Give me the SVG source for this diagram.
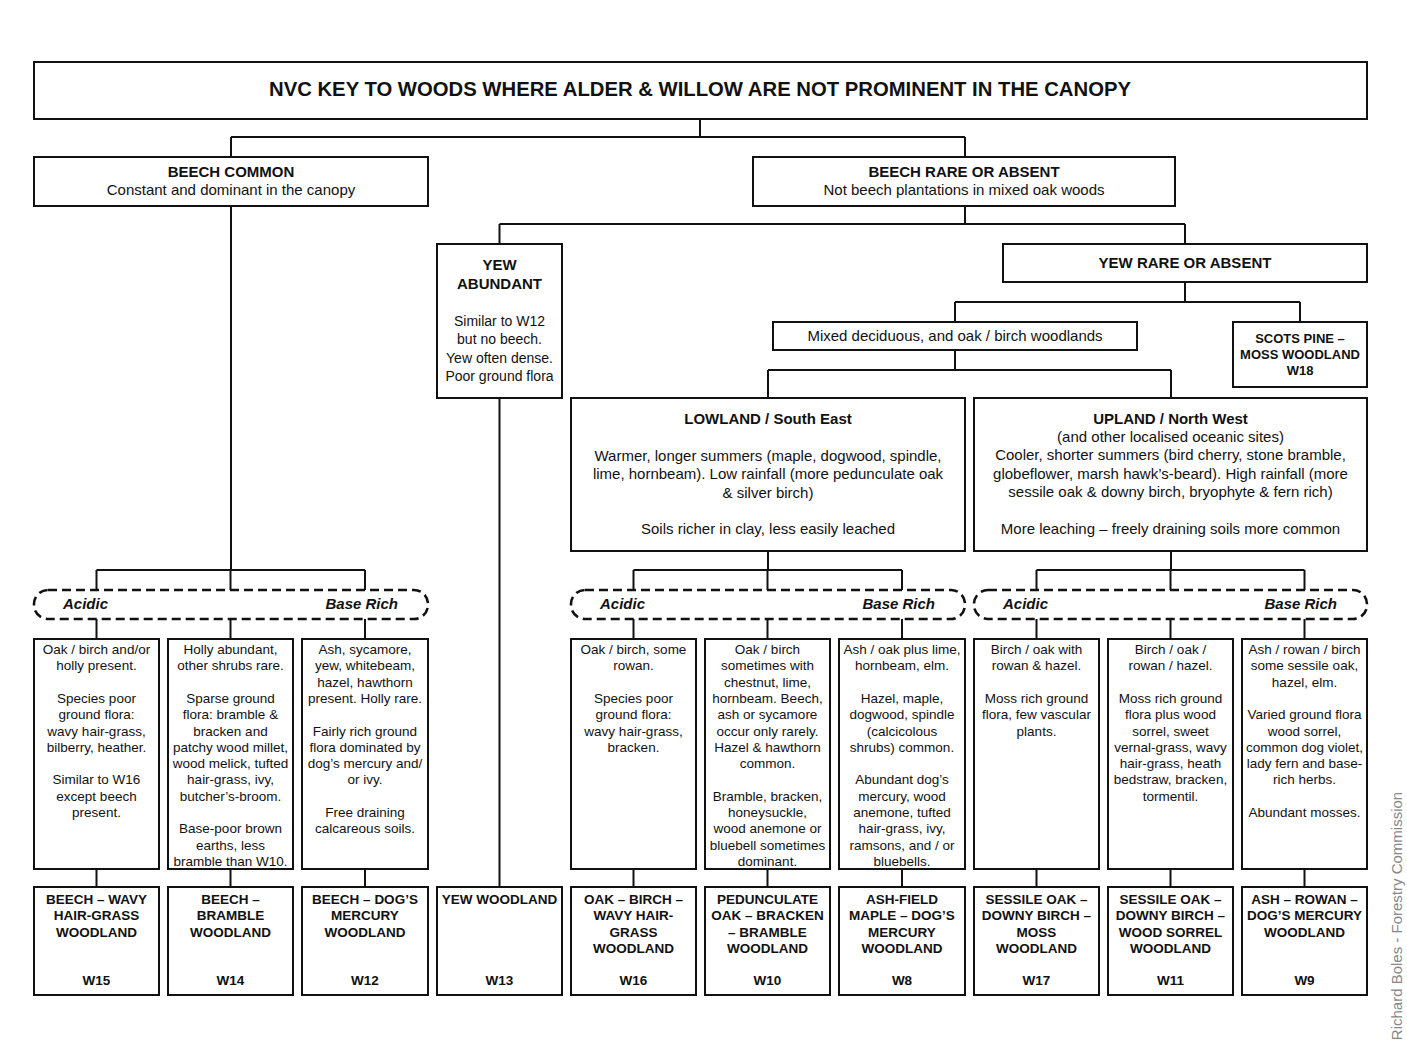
<svg xmlns="http://www.w3.org/2000/svg" width="1407" height="1050" viewBox="0 0 1407 1050">
<style>
.box{fill:#fff;stroke:#111;stroke-width:2}
.dash{fill:#fff;stroke:#111;stroke-width:2.6;stroke-dasharray:9 5}
.con{fill:none;stroke:#111;stroke-width:2}
text{font-family:"Liberation Sans",Arial,sans-serif;fill:#111;text-anchor:middle}
.title{font-size:20.3px;font-weight:bold}
.h{font-size:15px;font-weight:bold}
.r{font-size:15px}
.d{font-size:13.5px}
.b{font-size:13.5px;font-weight:bold}
.s{font-size:13px;font-weight:bold}
.soil{font-size:15px;font-weight:bold;font-style:italic}
.credit{font-size:15px;fill:#888}
</style>
<rect width="1407" height="1050" fill="#fff"/>
<g id="connectors">
<path class="con" d="M700,119V137M231,137H965M231,137V157M965,137V157"/>
<path class="con" d="M231,206V570M96.5,570H365M96.5,570V590M230.5,570V590M365,570V590"/>
<path class="con" d="M965,206V224M499.5,224H1185M499.5,224V244M1185,224V244"/>
<path class="con" d="M499.5,398V887"/>
<path class="con" d="M1185,282V302M955,302H1300M955,302V322M1300,302V322"/>
<path class="con" d="M955,350V370M768,370H1171M768,370V398M1171,370V398"/>
<path class="con" d="M768,551V570M633.5,570H902M633.5,570V590M767.5,570V590M902,570V590"/>
<path class="con" d="M1171,551V570M1036.5,570H1304.5M1036.5,570V590M1170.5,570V590M1304.5,570V590"/>
<path class="con" d="M96.5,619V639M230.5,619V639M365,619V639M633.5,619V639M767.5,619V639M902,619V639M1036.5,619V639M1170.5,619V639M1304.5,619V639"/>
<path class="con" d="M96.5,869V887M230.5,869V887M365,869V887M633.5,869V887M767.5,869V887M902,869V887M1036.5,869V887M1170.5,869V887M1304.5,869V887"/>
</g>
<g id="title"><rect class="box" x="34" y="62" width="1333" height="57"/><text class="title" x="700" y="96">NVC KEY TO WOODS WHERE ALDER &amp; WILLOW ARE NOT PROMINENT IN THE CANOPY</text></g>
<g id="beech-common"><rect class="box" x="34" y="157" width="394" height="49"/><text class="h" x="231" y="177">BEECH COMMON</text><text class="r" x="231" y="195">Constant and dominant in the canopy</text></g>
<g id="beech-rare"><rect class="box" x="753" y="157" width="422" height="49"/><text class="h" x="964" y="177">BEECH RARE OR ABSENT</text><text class="r" x="964" y="195">Not beech plantations in mixed oak woods</text></g>
<g id="yew-abundant"><rect class="box" x="437" y="244" width="125" height="154"/><text class="h" x="499.5" y="270">YEW<tspan x="499.5" dy="19">ABUNDANT</tspan></text><text class="d" x="499.5" y="326" style="font-size:14px">Similar to W12<tspan x="499.5" dy="18.3">but no beech.</tspan><tspan x="499.5" dy="18.3">Yew often dense.</tspan><tspan x="499.5" dy="18.3">Poor ground flora</tspan></text></g>
<g id="yew-rare"><rect class="box" x="1003" y="244" width="364" height="38"/><text class="h" x="1185" y="268">YEW RARE OR ABSENT</text></g>
<g id="mixed"><rect class="box" x="773" y="322" width="364" height="28"/><text class="r" x="955" y="341">Mixed deciduous, and oak / birch woodlands</text></g>
<g id="w18"><rect class="box" x="1233" y="322" width="134" height="65"/><text class="s" x="1300" y="343">SCOTS PINE –<tspan x="1300" dy="16">MOSS WOODLAND</tspan><tspan x="1300" dy="16">W18</tspan></text></g>
<g id="lowland"><rect class="box" x="571" y="398" width="394" height="153"/><text class="h" x="768" y="424">LOWLAND / South East</text><text class="r" x="768" y="461">Warmer, longer summers (maple, dogwood, spindle,<tspan x="768" dy="18.3">lime, hornbeam). Low rainfall (more pedunculate oak</tspan><tspan x="768" dy="18.3">&amp; silver birch)</tspan><tspan x="768" dy="36.6">Soils richer in clay, less easily leached</tspan></text></g>
<g id="upland"><rect class="box" x="974" y="398" width="393" height="153"/><text class="h" x="1170.5" y="424">UPLAND  / North West</text><text class="r" x="1170.5" y="442">(and other localised oceanic sites)<tspan x="1170.5" dy="18.3">Cooler, shorter summers (bird cherry, stone bramble,</tspan><tspan x="1170.5" dy="18.3">globeflower, marsh hawk’s-beard).  High rainfall (more</tspan><tspan x="1170.5" dy="18.3">sessile oak &amp; downy birch, bryophyte &amp; fern rich)</tspan><tspan x="1170.5" dy="36.6">More leaching – freely draining soils more common</tspan></text></g>
<g id="soil-beech"><rect class="dash" x="34" y="590" width="394" height="29" rx="14"/><text class="soil" x="63" y="609" style="text-anchor:start">Acidic</text><text class="soil" x="398" y="609" style="text-anchor:end">Base Rich</text></g>
<g id="soil-lowland"><rect class="dash" x="571" y="590" width="394" height="29" rx="14"/><text class="soil" x="600" y="609" style="text-anchor:start">Acidic</text><text class="soil" x="935" y="609" style="text-anchor:end">Base Rich</text></g>
<g id="soil-upland"><rect class="dash" x="974" y="590" width="393" height="29" rx="14"/><text class="soil" x="1003" y="609" style="text-anchor:start">Acidic</text><text class="soil" x="1337" y="609" style="text-anchor:end">Base Rich</text></g>
<g id="desc-w15"><rect class="box" x="34" y="639" width="125" height="230"/><text class="d" x="96.5" y="654">Oak / birch and/or<tspan x="96.5" dy="16.3">holly present.</tspan><tspan x="96.5" dy="32.6">Species poor</tspan><tspan x="96.5" dy="16.3">ground flora:</tspan><tspan x="96.5" dy="16.3">wavy hair-grass,</tspan><tspan x="96.5" dy="16.3">bilberry, heather.</tspan><tspan x="96.5" dy="32.6">Similar to W16</tspan><tspan x="96.5" dy="16.3">except beech</tspan><tspan x="96.5" dy="16.3">present.</tspan></text></g>
<g id="desc-w14"><rect class="box" x="168" y="639" width="125" height="230"/><text class="d" x="230.5" y="654">Holly abundant,<tspan x="230.5" dy="16.3">other shrubs rare.</tspan><tspan x="230.5" dy="32.6">Sparse ground</tspan><tspan x="230.5" dy="16.3">flora: bramble &amp;</tspan><tspan x="230.5" dy="16.3">bracken and</tspan><tspan x="230.5" dy="16.3">patchy wood millet,</tspan><tspan x="230.5" dy="16.3">wood melick, tufted</tspan><tspan x="230.5" dy="16.3">hair-grass, ivy,</tspan><tspan x="230.5" dy="16.3">butcher’s-broom.</tspan><tspan x="230.5" dy="32.6">Base-poor brown</tspan><tspan x="230.5" dy="16.3">earths, less</tspan><tspan x="230.5" dy="16.3">bramble than W10.</tspan></text></g>
<g id="desc-w12"><rect class="box" x="302" y="639" width="126" height="230"/><text class="d" x="365" y="654">Ash, sycamore,<tspan x="365" dy="16.3">yew, whitebeam,</tspan><tspan x="365" dy="16.3">hazel, hawthorn</tspan><tspan x="365" dy="16.3">present. Holly rare.</tspan><tspan x="365" dy="32.6">Fairly rich ground</tspan><tspan x="365" dy="16.3">flora dominated by</tspan><tspan x="365" dy="16.3">dog’s mercury and/</tspan><tspan x="365" dy="16.3">or ivy.</tspan><tspan x="365" dy="32.6">Free draining</tspan><tspan x="365" dy="16.3">calcareous soils.</tspan></text></g>
<g id="desc-w16"><rect class="box" x="571" y="639" width="125" height="230"/><text class="d" x="633.5" y="654">Oak / birch, some<tspan x="633.5" dy="16.3">rowan.</tspan><tspan x="633.5" dy="32.6">Species poor</tspan><tspan x="633.5" dy="16.3">ground flora:</tspan><tspan x="633.5" dy="16.3">wavy hair-grass,</tspan><tspan x="633.5" dy="16.3">bracken.</tspan></text></g>
<g id="desc-w10"><rect class="box" x="705" y="639" width="125" height="230"/><text class="d" x="767.5" y="654">Oak / birch<tspan x="767.5" dy="16.3">sometimes with</tspan><tspan x="767.5" dy="16.3">chestnut, lime,</tspan><tspan x="767.5" dy="16.3">hornbeam. Beech,</tspan><tspan x="767.5" dy="16.3">ash or sycamore</tspan><tspan x="767.5" dy="16.3">occur only rarely.</tspan><tspan x="767.5" dy="16.3">Hazel &amp; hawthorn</tspan><tspan x="767.5" dy="16.3">common.</tspan><tspan x="767.5" dy="32.6">Bramble, bracken,</tspan><tspan x="767.5" dy="16.3">honeysuckle,</tspan><tspan x="767.5" dy="16.3">wood anemone or</tspan><tspan x="767.5" dy="16.3">bluebell sometimes</tspan><tspan x="767.5" dy="16.3">dominant.</tspan></text></g>
<g id="desc-w8"><rect class="box" x="839" y="639" width="126" height="230"/><text class="d" x="902" y="654">Ash / oak plus lime,<tspan x="902" dy="16.3">hornbeam, elm.</tspan><tspan x="902" dy="32.6">Hazel, maple,</tspan><tspan x="902" dy="16.3">dogwood, spindle</tspan><tspan x="902" dy="16.3">(calcicolous</tspan><tspan x="902" dy="16.3">shrubs) common.</tspan><tspan x="902" dy="32.6">Abundant dog’s</tspan><tspan x="902" dy="16.3">mercury, wood</tspan><tspan x="902" dy="16.3">anemone, tufted</tspan><tspan x="902" dy="16.3">hair-grass, ivy,</tspan><tspan x="902" dy="16.3">ramsons, and / or</tspan><tspan x="902" dy="16.3">bluebells.</tspan></text></g>
<g id="desc-w17"><rect class="box" x="974" y="639" width="125" height="230"/><text class="d" x="1036.5" y="654">Birch / oak with<tspan x="1036.5" dy="16.3">rowan &amp; hazel.</tspan><tspan x="1036.5" dy="32.6">Moss rich ground</tspan><tspan x="1036.5" dy="16.3">flora, few vascular</tspan><tspan x="1036.5" dy="16.3">plants.</tspan></text></g>
<g id="desc-w11"><rect class="box" x="1108" y="639" width="125" height="230"/><text class="d" x="1170.5" y="654">Birch / oak /<tspan x="1170.5" dy="16.3">rowan / hazel.</tspan><tspan x="1170.5" dy="32.6">Moss rich ground</tspan><tspan x="1170.5" dy="16.3">flora plus wood</tspan><tspan x="1170.5" dy="16.3">sorrel, sweet</tspan><tspan x="1170.5" dy="16.3">vernal-grass, wavy</tspan><tspan x="1170.5" dy="16.3">hair-grass, heath</tspan><tspan x="1170.5" dy="16.3">bedstraw, bracken,</tspan><tspan x="1170.5" dy="16.3">tormentil.</tspan></text></g>
<g id="desc-w9"><rect class="box" x="1242" y="639" width="125" height="230"/><text class="d" x="1304.5" y="654">Ash / rowan / birch<tspan x="1304.5" dy="16.3">some sessile oak,</tspan><tspan x="1304.5" dy="16.3">hazel, elm.</tspan><tspan x="1304.5" dy="32.6">Varied ground flora</tspan><tspan x="1304.5" dy="16.3">wood sorrel,</tspan><tspan x="1304.5" dy="16.3">common dog violet,</tspan><tspan x="1304.5" dy="16.3">lady fern and base-</tspan><tspan x="1304.5" dy="16.3">rich herbs.</tspan><tspan x="1304.5" dy="32.6">Abundant mosses.</tspan></text></g>
<g id="w15"><rect class="box" x="34" y="887" width="125" height="108"/><text class="b" x="96.5" y="904">BEECH – WAVY<tspan x="96.5" dy="16.3">HAIR-GRASS</tspan><tspan x="96.5" dy="16.3">WOODLAND</tspan></text><text class="b" x="96.5" y="985">W15</text></g>
<g id="w14"><rect class="box" x="168" y="887" width="125" height="108"/><text class="b" x="230.5" y="904">BEECH –<tspan x="230.5" dy="16.3">BRAMBLE</tspan><tspan x="230.5" dy="16.3">WOODLAND</tspan></text><text class="b" x="230.5" y="985">W14</text></g>
<g id="w12"><rect class="box" x="302" y="887" width="126" height="108"/><text class="b" x="365" y="904">BEECH – DOG’S<tspan x="365" dy="16.3">MERCURY</tspan><tspan x="365" dy="16.3">WOODLAND</tspan></text><text class="b" x="365" y="985">W12</text></g>
<g id="w13"><rect class="box" x="437" y="887" width="125" height="108"/><text class="b" x="499.5" y="904">YEW WOODLAND</text><text class="b" x="499.5" y="985">W13</text></g>
<g id="w16"><rect class="box" x="571" y="887" width="125" height="108"/><text class="b" x="633.5" y="904">OAK – BIRCH –<tspan x="633.5" dy="16.3">WAVY HAIR-</tspan><tspan x="633.5" dy="16.3">GRASS</tspan><tspan x="633.5" dy="16.3">WOODLAND</tspan></text><text class="b" x="633.5" y="985">W16</text></g>
<g id="w10"><rect class="box" x="705" y="887" width="125" height="108"/><text class="b" x="767.5" y="904">PEDUNCULATE<tspan x="767.5" dy="16.3">OAK – BRACKEN</tspan><tspan x="767.5" dy="16.3">– BRAMBLE</tspan><tspan x="767.5" dy="16.3">WOODLAND</tspan></text><text class="b" x="767.5" y="985">W10</text></g>
<g id="w8"><rect class="box" x="839" y="887" width="126" height="108"/><text class="b" x="902" y="904">ASH-FIELD<tspan x="902" dy="16.3">MAPLE – DOG’S</tspan><tspan x="902" dy="16.3">MERCURY</tspan><tspan x="902" dy="16.3">WOODLAND</tspan></text><text class="b" x="902" y="985">W8</text></g>
<g id="w17"><rect class="box" x="974" y="887" width="125" height="108"/><text class="b" x="1036.5" y="904">SESSILE OAK –<tspan x="1036.5" dy="16.3">DOWNY BIRCH –</tspan><tspan x="1036.5" dy="16.3">MOSS</tspan><tspan x="1036.5" dy="16.3">WOODLAND</tspan></text><text class="b" x="1036.5" y="985">W17</text></g>
<g id="w11"><rect class="box" x="1108" y="887" width="125" height="108"/><text class="b" x="1170.5" y="904">SESSILE OAK –<tspan x="1170.5" dy="16.3">DOWNY BIRCH –</tspan><tspan x="1170.5" dy="16.3">WOOD SORREL</tspan><tspan x="1170.5" dy="16.3">WOODLAND</tspan></text><text class="b" x="1170.5" y="985">W11</text></g>
<g id="w9"><rect class="box" x="1242" y="887" width="125" height="108"/><text class="b" x="1304.5" y="904">ASH – ROWAN –<tspan x="1304.5" dy="16.3">DOG’S MERCURY</tspan><tspan x="1304.5" dy="16.3">WOODLAND</tspan></text><text class="b" x="1304.5" y="985">W9</text></g>
<text class="credit" transform="translate(1402,916) rotate(-90)">Richard Boles - Forestry Commission</text>
</svg>
